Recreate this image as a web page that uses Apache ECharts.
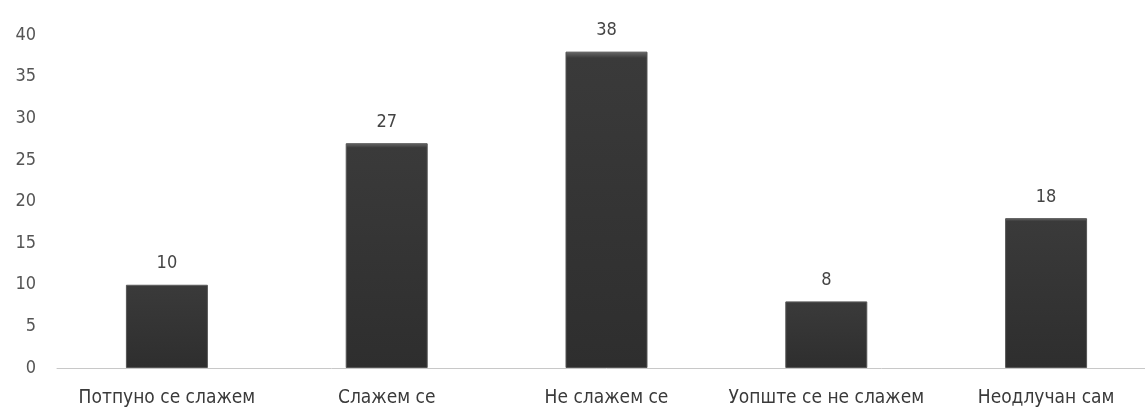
<!DOCTYPE html>
<html><head><meta charset="utf-8">
<script src="https://cdn.jsdelivr.net/npm/echarts@6/dist/echarts.min.js"></script>
<style>html,body{margin:0;padding:0;background:#fff;overflow:hidden;width:1145px;height:408px}#c{width:1156px;height:408px}</style>
</head><body><div id="c"></div>
<script>
const categories = ['Потпуно се слажем', 'Слажем се', 'Не слажем се', 'Уопште се не слажем', 'Неодлучан сам'];
const values = [10, 27, 38, 8, 18];
const yTicks = [0, 5, 10, 15, 20, 25, 30, 35, 40];

const FONT = '"DejaVu Sans Condensed", "DejaVu Sans", sans-serif';
const chart = echarts.init(document.getElementById('c'));
chart.setOption({
  animation: false,
  grid: { left: 57, right: 0, top: 35, bottom: 40 },
  xAxis: {
    type: 'category',
    data: categories,
    axisLine: { lineStyle: { color: '#c8c8c8', width: 1 } },
    axisTick: { show: false },
    axisLabel: { interval: 0, hideOverlap: false, color: '#3a3a3a', fontSize: 19, fontFamily: FONT, margin: 21 }
  },
  yAxis: {
    type: 'value',
    min: yTicks[0], max: yTicks[yTicks.length - 1], interval: 5,
    splitLine: { show: false },
    axisLine: { show: false },
    axisTick: { show: false },
    axisLabel: { color: '#555', fontSize: 18, fontFamily: FONT, margin: 21 }
  },
  series: [{
    type: 'bar',
    data: values,
    barWidth: '37.3%',
    itemStyle: {
      color: new echarts.graphic.LinearGradient(0, 0, 0, 1, [
        { offset: 0, color: '#6a6a6a' },
        { offset: 0.02, color: '#3a3a3a' },
        { offset: 1, color: '#2e2e2e' }
      ]),
      borderColor: '#555', borderWidth: 1
    },
    label: { show: true, position: 'top', distance: 12, color: '#444', fontSize: 18, fontFamily: FONT }
  }]
});
</script></body></html>
